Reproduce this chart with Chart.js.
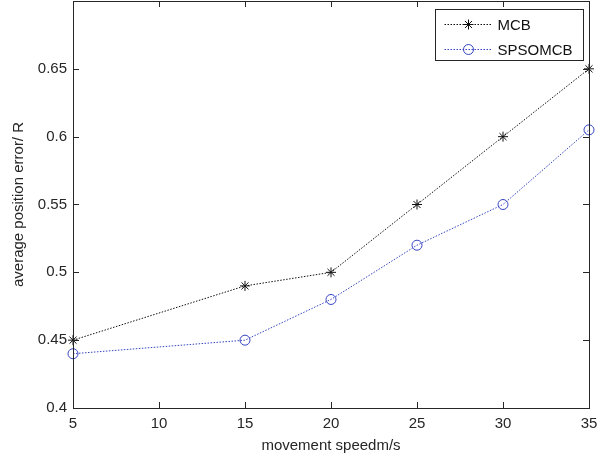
<!DOCTYPE html>
<html>
<head>
<meta charset="utf-8">
<script src="https://cdn.jsdelivr.net/npm/chart.js@4/dist/chart.umd.min.js"></script>
<style>
  html, body { margin: 0; padding: 0; background: #fff; }
  #wrap { width: 603px; height: 457px; position: relative; }
</style>
</head>
<body>
<div id="wrap"><canvas id="c" width="603" height="457"></canvas></div>
<script>
// ---- data ----
const speeds = [5, 15, 20, 25, 30, 35];
const mcbValues = [0.45, 0.49, 0.50, 0.55, 0.60, 0.65];
const spsomcbValues = [0.44, 0.45, 0.48, 0.52, 0.55, 0.605];
const seriesNames = ['MCB', 'SPSOMCB'];
const xTicks = [5, 10, 15, 20, 25, 30, 35];
const yTicks = [0.4, 0.45, 0.5, 0.55, 0.6, 0.65, 0.7];
const xTitle = 'movement speedm/s';
const yTitle = 'average position error/ R';

const FONT = "'Liberation Sans', Arial, sans-serif";
const AXIS_COLOR = '#262626';

const toPoints = (xs, ys) => xs.map((x, i) => ({ x: x, y: ys[i] }));

// Box + inward ticks (MATLAB style)
const boxPlugin = {
  id: 'boxPlugin',
  afterDatasetsDraw(chart) {
    const { ctx, chartArea: a, scales } = chart;
    const xs = scales.x, ys = scales.y;
    const tl = 6;
    ctx.save();
    ctx.strokeStyle = AXIS_COLOR;
    ctx.lineWidth = 1;
    ctx.beginPath();
    xTicks.forEach(v => {
      const px = Math.round(xs.getPixelForValue(v)) + 0.5;
      ctx.moveTo(px, a.bottom); ctx.lineTo(px, a.bottom - tl);
      ctx.moveTo(px, a.top); ctx.lineTo(px, a.top + tl);
    });
    yTicks.forEach(v => {
      const py = Math.round(ys.getPixelForValue(v)) + 0.5;
      ctx.moveTo(a.left, py); ctx.lineTo(a.left + tl, py);
      ctx.moveTo(a.right, py); ctx.lineTo(a.right - tl, py);
    });
    ctx.stroke();
    ctx.strokeRect(Math.round(a.left) + 0.5, Math.round(a.top) + 0.5,
                   Math.round(a.right - a.left), Math.round(a.bottom - a.top));
    ctx.restore();
  },
  afterDraw(chart) {
    // legend inside the plot, top-right
    const { ctx, chartArea: a } = chart;
    const w = 148, h = 51;
    const x0 = Math.round(a.right - 6 - w) + 0.5;
    const y0 = Math.round(a.top + 8) + 0.5;
    ctx.save();
    ctx.fillStyle = '#fff';
    ctx.fillRect(x0, y0, w, h);
    ctx.strokeStyle = AXIS_COLOR;
    ctx.lineWidth = 1;
    ctx.strokeRect(x0, y0, w, h);
    ctx.font = '15px ' + FONT;
    ctx.textBaseline = 'middle';
    ctx.textAlign = 'left';
    chart.data.datasets.forEach((ds, i) => {
      const cy = Math.round(y0 + 14 + i * 25) + 0.5;
      ctx.save();
      ctx.strokeStyle = ds.borderColor;
      ctx.lineWidth = 1;
      ctx.setLineDash(ds.borderDash);
      ctx.beginPath();
      ctx.moveTo(x0 + 9, cy); ctx.lineTo(x0 + 57, cy);
      ctx.stroke();
      ctx.setLineDash([]);
      ctx.fillStyle = 'rgba(0,0,0,0)';
      ctx.strokeStyle = ds.pointBorderColor;
      Chart.helpers.drawPoint(ctx, {
        pointStyle: ds.pointStyle, radius: ds.pointRadius, borderWidth: 1, rotation: 0
      }, x0 + 33, cy);
      ctx.restore();
      ctx.fillStyle = '#111';
      ctx.fillText(ds.label, x0 + 62, cy + 1);
    });
    ctx.restore();
  }
};

new Chart(document.getElementById('c'), {
  type: 'line',
  data: {
    datasets: [
      {
        label: seriesNames[0],
        data: toPoints(speeds, mcbValues),
        borderColor: '#111111',
        backgroundColor: 'rgba(0,0,0,0)',
        borderWidth: 1,
        borderDash: [1.5, 1.5],
        pointStyle: 'star',
        pointRadius: 5,
        pointBorderWidth: 1,
        pointBorderColor: '#111111',
        tension: 0,
        clip: false
      },
      {
        label: seriesNames[1],
        data: toPoints(speeds, spsomcbValues),
        borderColor: '#3444c0',
        backgroundColor: 'rgba(0,0,0,0)',
        borderWidth: 1,
        borderDash: [1.5, 1.5],
        pointStyle: 'circle',
        pointRadius: 5,
        pointBorderWidth: 1,
        pointBorderColor: '#3444c0',
        pointBackgroundColor: 'rgba(0,0,0,0)',
        tension: 0,
        clip: false
      }
    ]
  },
  options: {
    responsive: false,
    animation: false,
    devicePixelRatio: 1,
    layout: { autoPadding: false, padding: { top: 1, right: 14, left: 0, bottom: 0 } },
    plugins: { legend: { display: false }, tooltip: { enabled: false } },
    elements: { point: { hoverRadius: 5 } },
    scales: {
      x: {
        type: 'linear',
        min: xTicks[0], max: xTicks[xTicks.length - 1],
        afterBuildTicks(scale) { scale.ticks = xTicks.map(v => ({ value: v })); },
        ticks: { font: { family: FONT, size: 15 }, color: AXIS_COLOR, padding: 7, maxRotation: 0, autoSkip: false },
        grid: { display: false, drawTicks: false },
        border: { display: false },
        title: { display: true, text: xTitle, font: { family: FONT, size: 15 }, color: AXIS_COLOR, padding: { top: 0, bottom: 2 } },
        afterFit(scale) { scale.height = 49; scale.paddingLeft = 0; scale.paddingRight = 0; }
      },
      y: {
        type: 'linear',
        min: yTicks[0], max: yTicks[yTicks.length - 1],
        afterBuildTicks(scale) { scale.ticks = yTicks.map(v => ({ value: v })); },
        ticks: {
          font: { family: FONT, size: 15 }, color: AXIS_COLOR, padding: 6, autoSkip: false,
          callback: (v) => (Math.abs(v - 0.7) < 1e-9 ? null : String(+v.toFixed(2)))
        },
        grid: { display: false, drawTicks: false },
        border: { display: false },
        title: { display: true, text: yTitle, font: { family: FONT, size: 15 }, color: AXIS_COLOR, padding: { top: 10, bottom: 0 } },
        afterFit(scale) { scale.width = 73; scale.paddingTop = 0; scale.paddingBottom = 0; }
      }
    }
  },
  plugins: [boxPlugin]
});
</script>
</body>
</html>
